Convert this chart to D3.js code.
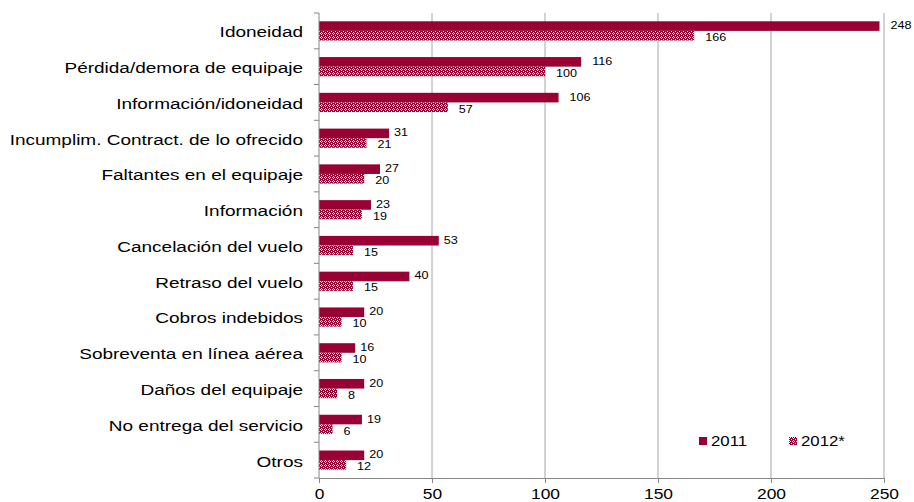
<!DOCTYPE html>
<html>
<head>
<meta charset="utf-8">
<script src="https://cdn.jsdelivr.net/npm/d3@7/dist/d3.min.js"></script>
<style>
  html, body { margin: 0; padding: 0; background: #fff; }
  svg { display: block; font-family: "Liberation Sans", Arial, sans-serif; }
</style>
</head>
<body>
<svg id="chart" width="914" height="502"></svg>
<script>
// Quejas por motivo, 2011 vs 2012*
const categories = [
  "Idoneidad",
  "Pérdida/demora de equipaje",
  "Información/idoneidad",
  "Incumplim. Contract. de lo ofrecido",
  "Faltantes en el equipaje",
  "Información",
  "Cancelación del vuelo",
  "Retraso del vuelo",
  "Cobros indebidos",
  "Sobreventa en línea aérea",
  "Daños del equipaje",
  "No entrega del servicio",
  "Otros"
];
const values2011 = [248, 116, 106, 31, 27, 23, 53, 40, 20, 16, 20, 19, 20];
const values2012 = [166, 100, 57, 21, 20, 19, 15, 15, 10, 10, 8, 6, 12];
const seriesNames = ["2011", "2012*"];
const xTicks = [0, 50, 100, 150, 200, 250];

const svg = d3.select("#chart");
const plotTop = 13;
const plotBottom = 478;
const red = "#990033";
const stretch = 1.2;   // text is drawn slightly wide

// Hatched fill for the 2012 series
const defs = svg.append("defs");
const pat = defs.append("pattern")
  .attr("id", "hatch")
  .attr("patternUnits", "userSpaceOnUse")
  .attr("width", 4).attr("height", 4);
pat.append("rect").attr("width", 4).attr("height", 4).attr("fill", red);
[[1,0],[0,1],[2,1],[1,2],[3,3]].forEach(([px, py]) => {
  pat.append("rect").attr("x", px).attr("y", py)
    .attr("width", 1).attr("height", 1).attr("fill", "#ffffff");
});

const x = d3.scaleLinear().domain([0, 250]).range([319, 884]);
const y = d3.scaleBand().domain(categories).range([plotTop, plotBottom]);
const barH = 9.6;

// Places a wide text label at (px, py)
function label(parent, px, py, txt, size, anchor, sx) {
  return parent.append("text")
    .attr("transform", `translate(${px},${py}) scale(${sx || stretch},1)`)
    .attr("dy", "0.35em")
    .attr("text-anchor", anchor || "start")
    .attr("font-size", size)
    .attr("fill", "#000")
    .text(txt);
}

// Vertical gridlines
svg.append("g").selectAll("line")
  .data(xTicks.slice(1))
  .join("line")
  .attr("x1", d => x(d)).attr("x2", d => x(d))
  .attr("y1", plotTop).attr("y2", plotBottom)
  .attr("stroke", "#a6a6a6").attr("stroke-width", 1);

// Bars
const rows = categories.map((c, i) => ({ c, a: values2011[i], b: values2012[i] }));
const g = svg.append("g");
g.selectAll("rect.s2011").data(rows).join("rect")
  .attr("class", "s2011")
  .attr("x", x(0))
  .attr("y", d => y(d.c) + y.bandwidth() / 2 - barH)
  .attr("width", d => x(d.a) - x(0))
  .attr("height", barH)
  .attr("fill", red);
g.selectAll("rect.s2012").data(rows).join("rect")
  .attr("class", "s2012")
  .attr("x", x(0))
  .attr("y", d => y(d.c) + y.bandwidth() / 2)
  .attr("width", d => x(d.b) - x(0))
  .attr("height", barH)
  .attr("fill", "url(#hatch)");

// Value labels
rows.forEach(d => {
  const cy = y(d.c) + y.bandwidth() / 2;
  label(g, x(d.a) + (String(d.a).length > 2 ? 11 : 5), cy - 5.5, d.a, 10.5);
  label(g, x(d.b) + 11, cy + 6.5, d.b, 10.5);
});

// Category axis
const yAxis = svg.append("g");
yAxis.append("line")
  .attr("x1", x(0)).attr("x2", x(0))
  .attr("y1", plotTop).attr("y2", plotBottom)
  .attr("stroke", "#868686");
const bounds = categories.map(c => y(c)).concat([plotBottom]);
yAxis.selectAll("line.tick").data(bounds).join("line")
  .attr("class", "tick")
  .attr("x1", x(0) - 5).attr("x2", x(0))
  .attr("y1", d => d).attr("y2", d => d)
  .attr("stroke", "#868686");
categories.forEach(c => {
  label(yAxis, x(0) - 16, y(c) + y.bandwidth() / 2 + 1, c, 15.5, "end", 1.225);
});

// Value axis
const xAxis = svg.append("g")
  .attr("transform", `translate(0,${plotBottom})`)
  .call(d3.axisBottom(x).tickValues(xTicks).tickSize(5).tickPadding(6));
xAxis.select(".domain").attr("stroke", "#868686");
xAxis.selectAll(".tick line").attr("stroke", "#868686");
xAxis.selectAll(".tick text")
  .attr("font-size", 14.5)
  .attr("fill", "#000")
  .attr("transform", `scale(${stretch},1)`)
  .attr("font-family", "Liberation Sans, Arial, sans-serif");

// Legend
const legend = svg.append("g");
const legendItems = [
  { name: seriesNames[0], fill: red, x: 699 },
  { name: seriesNames[1], fill: "url(#hatch)", x: 789 }
];
legendItems.forEach(it => {
  legend.append("rect")
    .attr("x", it.x).attr("y", 437)
    .attr("width", 8).attr("height", 8)
    .attr("fill", it.fill);
  label(legend, it.x + 12, 441, it.name, 14);
});
</script>
</body>
</html>
